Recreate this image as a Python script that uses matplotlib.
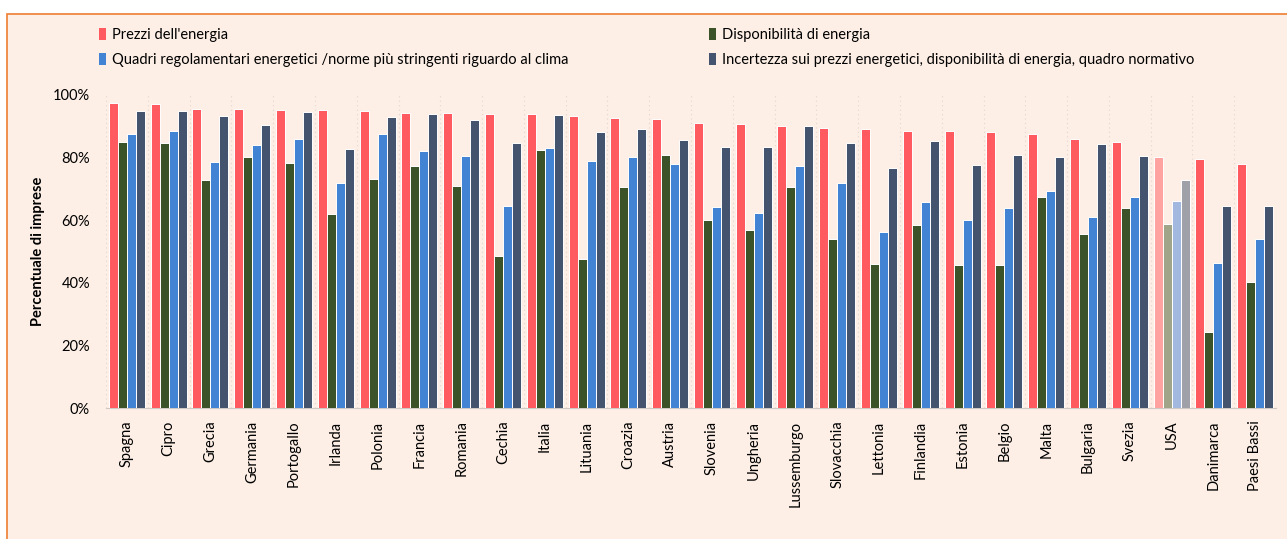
import numpy as np
import matplotlib.pyplot as plt
from matplotlib.patches import Rectangle, Patch

paesi = ["Spagna", "Cipro", "Grecia", "Germania", "Portogallo", "Irlanda", "Polonia",
         "Francia", "Romania", "Cechia", "Italia", "Lituania", "Croazia", "Austria",
         "Slovenia", "Ungheria", "Lussemburgo", "Slovacchia", "Lettonia", "Finlandia",
         "Estonia", "Belgio", "Malta", "Bulgaria", "Svezia", "USA", "Danimarca", "Paesi Bassi"]

prezzi = [97.3, 97.1, 95.5, 95.5, 95.3, 95.2, 94.8, 94.2, 94.1, 93.9, 93.9, 93.3, 92.7, 92.4,
          91.1, 90.8, 90.2, 89.6, 89.0, 88.5, 88.5, 88.2, 87.5, 85.9, 85.0, 80.3, 79.6, 78.0]
disponibilita = [85.0, 84.8, 72.9, 80.1, 78.4, 62.1, 73.2, 77.4, 71.0, 48.6, 82.5, 47.7, 70.6, 80.8,
                 60.2, 57.0, 70.6, 53.9, 46.0, 58.4, 45.7, 45.7, 67.4, 55.5, 63.9, 58.8, 24.2, 40.3]
quadri = [87.6, 88.4, 78.7, 83.9, 85.9, 71.8, 87.6, 82.2, 80.6, 64.5, 83.2, 78.9, 80.1, 78.1,
          64.1, 62.3, 77.2, 71.9, 56.3, 65.7, 60.2, 63.9, 69.4, 61.0, 67.4, 66.0, 46.4, 53.9]
incertezza = [94.8, 95.0, 93.2, 90.3, 94.6, 82.6, 92.9, 93.9, 92.1, 84.8, 93.7, 88.3, 89.1, 85.7,
              83.5, 83.4, 90.0, 84.6, 76.6, 85.4, 77.7, 80.8, 80.1, 84.3, 80.6, 72.9, 64.6, 64.6]

serie = [
    ("Prezzi dell'energia", prezzi, "#FF5A5F", "#FFA3A0"),
    ("Disponibilità di energia", disponibilita, "#3C5229", "#A0A488"),
    ("Quadri regolamentari energetici /norme più stringenti riguardo al clima", quadri, "#4283D3", "#A3B8DE"),
    ("Incertezza sui prezzi energetici, disponibilità di energia, quadro normativo", incertezza, "#44546E", "#A0A1A8"),
]

plt.rcParams["font.family"] = ["Lato", "DejaVu Sans"]

bg = "#FDEFE6"
fig = plt.figure(figsize=(12.87, 5.39), dpi=100, facecolor="white")
fig.patches.append(Rectangle((7 / 1287, -0.01), 1.1, (539 - 14) / 539 + 0.01,
                             transform=fig.transFigure, facecolor=bg,
                             edgecolor="#ED7D31", linewidth=1.2, zorder=-5))
ax = fig.add_axes([106 / 1287, 131 / 539, 1170 / 1287, 313 / 539])
ax.set_facecolor("none")
ax.set_zorder(2)

x = np.arange(len(paesi))
w = 0.215
usa = paesi.index("USA")
for i, (nome, vals, col, col_usa) in enumerate(serie):
    cols = [col_usa if j == usa else col for j in range(len(paesi))]
    ax.bar(x + (i - 1.5) * w, np.array(vals) / 100, width=w, color=cols,
           edgecolor="white", linewidth=0.7, zorder=3)

ax.set_xlim(-0.5, len(paesi) - 0.5)
ax.set_ylim(0, 1)
ax.set_yticks(np.arange(0, 1.01, 0.2))
ax.set_yticklabels([f"{int(round(v * 100))}%" for v in np.arange(0, 1.01, 0.2)], fontsize=10.5)
ax.set_xticks(x)
ax.set_xticklabels(paesi, rotation=90, fontsize=10.5)
ax.tick_params(axis="y", length=0, pad=11.5)
ax.tick_params(axis="x", length=0, pad=9)
for b in np.arange(-0.5, len(paesi), 1):
    ax.axvline(b, color="#e0d6cf", linestyle=(0, (1, 3)), linewidth=0.8, zorder=1)
for s in ["top", "right", "left"]:
    ax.spines[s].set_visible(False)
ax.spines["bottom"].set_color("#d0c8c2")
ax.set_ylabel("Percentuale di imprese", fontsize=10.5, fontweight="bold", labelpad=6)

handles = [Patch(facecolor=c, edgecolor="none") for _, _, c, _ in serie]
labels = [s[0] for s in serie]
leg = fig.legend([handles[0], handles[2], handles[1], handles[3]],
                 [labels[0], labels[2], labels[1], labels[3]],
                 ncol=2, loc="upper left", bbox_to_anchor=(86 / 1287, 1 - 15 / 539),
                 frameon=False, fontsize=10.5, handlelength=0.5, handleheight=0.9,
                 handletextpad=0.4, labelspacing=0.75, columnspacing=9.6)

fig.savefig("out.png", dpi=100, facecolor="white")
